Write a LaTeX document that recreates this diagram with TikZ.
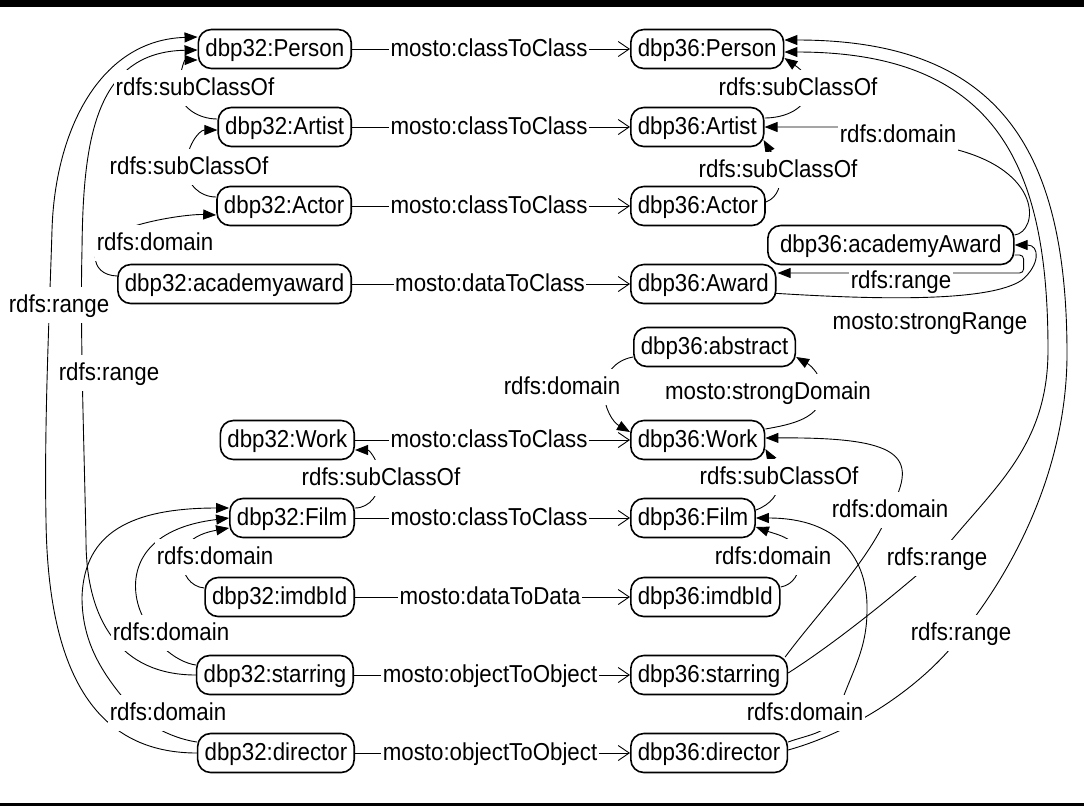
\documentclass[tikz,border=0pt]{standalone}
\usepackage{fontspec}
\setmainfont{Liberation Sans}[FakeStretch=0.91]
\usetikzlibrary{arrows.meta,calc,backgrounds}
\begin{document}
\begin{tikzpicture}[x=1pt,y=1pt,
  every node/.style={font=\fontsize{24.5}{28}\selectfont, text height=17.5pt, text depth=2pt},
  box/.style={draw, line width=1.6pt, rounded corners=13pt, fill=white,
    minimum height=39pt, inner xsep=7pt, inner ysep=0pt},
  lbl/.style={fill=white, inner xsep=1.5pt, inner ysep=0pt, minimum height=36pt},
  rel/.style={line width=0.9pt, -{Triangle[length=13pt,width=10pt]}},
  map/.style={line width=0.9pt, -{Straight Barb[length=11pt,width=15pt]}},
]
\useasboundingbox (0,0) rectangle (1084,-807);

% frame rules
\fill (0,0) rectangle (1084,-7);
\fill (0,-803) rectangle (1084,-806);

% ---- edge labels (drawn first so boxes stay on top) ----
\node[lbl] (L1)  at (195,-88)  {rdfs:subClassOf};
\node[lbl] (L2)  at (189,-167) {rdfs:subClassOf};
\node[lbl] (L3)  at (155,-243) {rdfs:domain};
\node[lbl] (LR1) at (59,-305)  {rdfs:range};
\node[lbl] (LR2) at (109,-373) {rdfs:range};
\node[lbl] (L5)  at (381,-478) {rdfs:subClassOf};
\node[lbl] (LD1) at (215,-557) {rdfs:domain};
\node[lbl] (LD2) at (171,-633) {rdfs:domain};
\node[lbl] (LD3) at (168,-713) {rdfs:domain};

\node[lbl] (M1) at (489,-49)  {mosto:classToClass};
\node[lbl] (M2) at (489,-127) {mosto:classToClass};
\node[lbl] (M3) at (489,-206) {mosto:classToClass};
\node[lbl] (M4) at (490,-284) {mosto:dataToClass};
\node[lbl] (M5) at (489,-440) {mosto:classToClass};
\node[lbl] (M6) at (489,-518) {mosto:classToClass};
\node[lbl] (M7) at (490,-597) {mosto:dataToData};
\node[lbl] (M8) at (490,-675) {mosto:objectToObject};
\node[lbl] (M9) at (490,-753) {mosto:objectToObject};

\node[lbl] (LS1)  at (798,-88)  {rdfs:subClassOf};
\node[lbl] (LS2)  at (778,-170) {rdfs:subClassOf};
\node[lbl] (LDm)  at (898,-135) {rdfs:domain};
\node[lbl, minimum height=0pt, inner ysep=1pt] (LRg) at (901,-281) {rdfs:range};
\node[lbl] (LSR)  at (930,-322) {mosto:strongRange};
\node[lbl] (LSD)  at (768,-392) {mosto:strongDomain};
\node[lbl] (LDa)  at (562,-387) {rdfs:domain};
\node[lbl] (LSw)  at (779,-477) {rdfs:subClassOf};
\node[lbl] (LDw)  at (890,-510) {rdfs:domain};
\node[lbl] (LDf)  at (773,-557) {rdfs:domain};
\node[lbl] (LRr1) at (937,-558) {rdfs:range};
\node[lbl] (LRr2) at (961,-633) {rdfs:range};
\node[lbl] (LDf2) at (805,-713) {rdfs:domain};

% ---- dbp32 classes and properties ----
\node[box, anchor=east] (p32)  at (352,-49)  {dbp32:Person};
\node[box, anchor=east] (a32)  at (352,-127) {dbp32:Artist};
\node[box, anchor=east] (ac32) at (352,-206) {dbp32:Actor};
\node[box, anchor=east] (aw32) at (352,-284) {dbp32:academyaward};
\node[box, anchor=east] (w32)  at (355,-440) {dbp32:Work};
\node[box, anchor=east] (f32)  at (355,-518) {dbp32:Film};
\node[box, anchor=east] (i32)  at (355,-597) {dbp32:imdbId};
\node[box, anchor=east] (s32)  at (354,-675) {dbp32:starring};
\node[box, anchor=east] (d32)  at (355,-753) {dbp32:director};

% ---- dbp36 classes and properties ----
\node[box, anchor=west] (p36)   at (630,-49)  {dbp36:Person};
\node[box, anchor=west] (a36)   at (630,-127) {dbp36:Artist};
\node[box, anchor=west] (ac36)  at (630,-206) {dbp36:Actor};
\node[box, anchor=west] (awd36) at (630,-284) {dbp36:Award};
\node[box, anchor=west, minimum width=246pt] (aa36) at (767,-245) {dbp36:academyAward};
\node[box, anchor=west] (ab36)  at (633,-347) {dbp36:abstract};
\node[box, anchor=west] (w36)   at (630,-440) {dbp36:Work};
\node[box, anchor=west] (f36)   at (630,-518) {dbp36:Film};
\node[box, anchor=west] (i36)   at (630,-597) {dbp36:imdbId};
\node[box, anchor=west] (s36)   at (630,-675) {dbp36:starring};
\node[box, anchor=west] (d36)   at (630,-753) {dbp36:director};

\begin{scope}[on background layer]
% mappings between the two vocabularies
\draw[map] (p32.east)  -- (p36.west);
\draw[map] (a32.east)  -- (a36.west);
\draw[map] (ac32.east) -- (ac36.west);
\draw[map] (aw32.east) -- (awd36.west);
\draw[map] (w32.east)  -- (w36.west);
\draw[map] (f32.east)  -- (f36.west);
\draw[map] (i32.east)  -- (i36.west);
\draw[map] (s32.east)  -- (s36.west);
\draw[map] (d32.east)  -- (d36.west);

% dbp32 hierarchy
\draw[rel] ($(a32.west)+(0,8)$) to[out=180,in=270] (179,-88) to[out=90,in=180] ($(p32.west)+(0,-11)$);
\draw[rel] ($(ac32.west)+(0,9)$) to[out=180,in=270] (186,-167) to[out=90,in=180] ($(a32.west)+(0,-3)$);
\draw[rel] ($(aw32.west)+(0,8)$) .. controls (88,-275) and (88,-242) .. (118,-232)
  .. controls (145,-220) and (190,-214) .. ($(ac32.west)+(0,-9)$);
\draw[rel] (d32.west) .. controls (100,-753) and (48,-680) .. (46,-520)
  .. controls (44,-420) and (50,-300) .. (52,-230)
  .. controls (55,-130) and (100,-40) .. ($(p32.west)+(0,12)$);
\draw[rel] (s32.west) .. controls (120,-675) and (86,-620) .. (86,-540)
  .. controls (84,-440) and (80,-330) .. (82,-250)
  .. controls (83,-140) and (95,-52) .. ($(p32.west)+(0,-1)$);
\draw[rel] ($(f32.east)+(0,10)$) to[out=0,in=270] (380,-478) to[out=90,in=0] ($(w32.east)+(0,-10)$);
\draw[rel] ($(i32.west)+(0,9)$) to[out=175,in=270] (182,-560) to[out=90,in=190] ($(f32.west)+(0,-10)$);
\draw[rel] ($(s32.west)+(0,10)$) .. controls (175,-662) and (150,-640) .. (142,-615)
  .. controls (128,-585) and (130,-530) .. (f32.west);
\draw[rel] ($(d32.west)+(0,11)$) .. controls (170,-738) and (140,-722) .. (125,-700)
  .. controls (100,-670) and (82,-640) .. (82,-597)
  .. controls (84,-540) and (120,-508) .. ($(f32.west)+(0,10)$);

% dbp36 hierarchy
\draw[rel] ($(a36.east)+(0,9)$) to[out=0,in=270] (808,-88) to[out=90,in=-35] ($(p36.east)+(0,-9)$);
\draw[rel] ($(ac36.east)+(0,4)$) to[out=20,in=270] (781,-170) to[out=90,in=-60] ($(a36.east)+(-1,-13)$);
\draw[rel] ($(aa36.east)+(0,10)$) .. controls (1038,-232) and (1045,-170) .. (950,-148)
  .. controls (920,-140) and (880,-127) .. (840,-127) -- (a36.east);
\draw[rel, rounded corners=4pt] ($(aa36.east)+(0,-10)$) -- ($(aa36.east)+(9,-10)$)
  -- ($(aa36.east)+(9,-28)$) -- ($(awd36.east)+(1,11)$);
\draw[rel] ($(awd36.east)+(-6,-9)$) .. controls (880,-300) and (990,-302) .. (1022,-280)
  .. controls (1040,-265) and (1040,-245) .. (aa36.east);
\draw[rel] ($(w36.east)+(0,11)$) to[out=10,in=270] (822,-392) to[out=90,in=-30] ($(ab36.east)+(0,-10)$);
\draw[rel] ($(ab36.west)+(0,-10)$) to[out=190,in=90] (604,-390) to[out=270,in=150] ($(w36.west)+(0,8)$);
\draw[rel] ($(f36.east)+(0,8)$) to[out=20,in=270] (780,-478) to[out=90,in=-60] ($(w36.east)+(0,-9)$);
\draw[rel] ($(i36.east)+(0,10)$) to[out=10,in=270] (800,-560) to[out=90,in=-20] ($(f36.east)+(0,-9)$);
\draw[rel] ($(d36.east)+(0,11)$) to[out=20,in=250] (838,-712) to[out=72,in=270] (867,-610)
  .. controls (868,-560) and (840,-518) .. (f36.east);
\draw[rel] ($(s36.east)+(-3,18)$) .. controls (820,-610) and (870,-560) .. (890,-510)
  .. controls (920,-455) and (900,-437) .. ($(w36.east)+(0,2)$);
\draw[rel] ($(s36.east)+(0,2)$) .. controls (840,-640) and (900,-590) .. (937,-558)
  .. controls (990,-490) and (1048,-450) .. (1048,-350)
  .. controls (1048,-170) and (1000,-52) .. ($(p36.east)+(0,-3)$);
\draw[rel] ($(d36.east)+(0,3)$) .. controls (860,-730) and (930,-680) .. (965,-630)
  .. controls (1020,-560) and (1068,-460) .. (1067,-350)
  .. controls (1066,-150) and (1000,-40) .. ($(p36.east)+(0,9)$);
\end{scope}
\end{tikzpicture}
\end{document}
